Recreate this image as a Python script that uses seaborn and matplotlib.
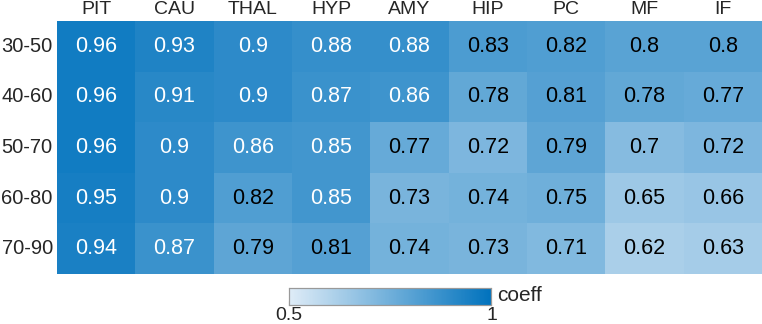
import numpy as np
import pandas as pd
import matplotlib
matplotlib.use("Agg")
import matplotlib.pyplot as plt
from matplotlib.colors import LinearSegmentedColormap
import seaborn as sns

# ---- data ----
regions = ['PIT', 'CAU', 'THAL', 'HYP', 'AMY', 'HIP', 'PC', 'MF', 'IF']
age_windows = ['30-50', '40-60', '50-70', '60-80', '70-90']
row_30_50 = [0.96, 0.93, 0.90, 0.88, 0.88, 0.83, 0.82, 0.80, 0.80]
row_40_60 = [0.96, 0.91, 0.90, 0.87, 0.86, 0.78, 0.81, 0.78, 0.77]
row_50_70 = [0.96, 0.90, 0.86, 0.85, 0.77, 0.72, 0.79, 0.70, 0.72]
row_60_80 = [0.95, 0.90, 0.82, 0.85, 0.73, 0.74, 0.75, 0.65, 0.66]
row_70_90 = [0.94, 0.87, 0.79, 0.81, 0.74, 0.73, 0.71, 0.62, 0.63]

df = pd.DataFrame([row_30_50, row_40_60, row_50_70, row_60_80, row_70_90],
                  index=age_windows, columns=regions)

sns.set_style('white')
plt.rcParams['font.family'] = ['Liberation Sans', 'DejaVu Sans']

cmap = LinearSegmentedColormap.from_list('blu', ['#dfecf7', '#0072bd'])

fig = plt.figure(figsize=(7.62, 3.24), dpi=100)
ax = fig.add_axes([0.0748, 0.154, 0.9252, 0.781])
cax = fig.add_axes([0.379, 0.0586, 0.266, 0.052])

sns.heatmap(df, ax=ax, cmap=cmap, vmin=0.5, vmax=1.0, annot=True, fmt='g',
            annot_kws={'fontsize': 15.5}, cbar_ax=cax,
            cbar_kws={'orientation': 'horizontal'})

# text colour: white on the darker cells
for txt, v in zip(ax.texts, df.values.ravel()):
    txt.set_color('white' if v >= 0.845 else 'black')

ax.xaxis.tick_top()
ax.tick_params(axis='x', length=0, labelsize=14, pad=2)
ax.tick_params(axis='y', length=0, labelsize=14.5, pad=3)
ax.set_yticklabels(age_windows, rotation=0)
ax.set_xticklabels(regions, rotation=0)
ax.set_xlabel('')
ax.set_ylabel('')

# colourbar styling
ticks = np.round(np.arange(0.5, 1.0001, 0.05), 2)
cax.set_xticks(ticks)
cax.set_xticklabels(['0.5'] + [''] * (len(ticks) - 2) + ['1'])
cax.tick_params(axis='x', direction='in', length=3, color='#888888',
                labelsize=14, pad=1.5)
for s in cax.spines.values():
    s.set_visible(True)
    s.set_edgecolor('#999999')
    s.set_linewidth(0.8)
cax.text(1.03, 0.55, 'coeff', transform=cax.transAxes, fontsize=15,
         va='center', ha='left')

fig.savefig('out.png', dpi=100)
